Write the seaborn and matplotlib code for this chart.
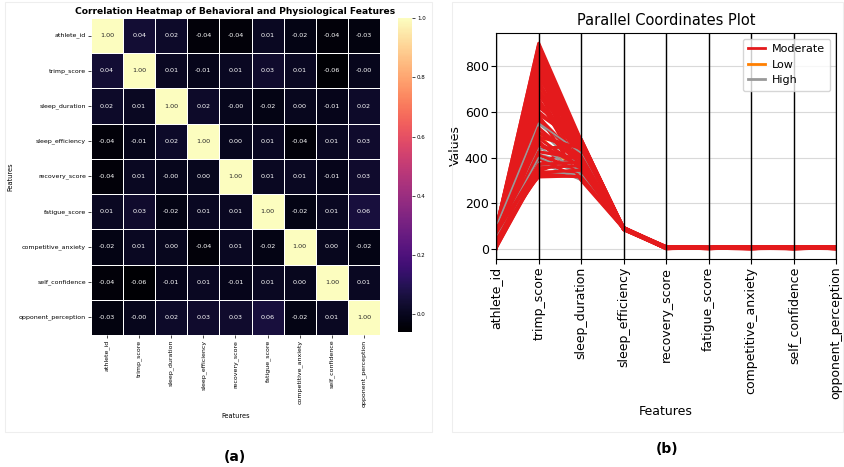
import pandas as pd
import matplotlib
matplotlib.use('Agg')
import matplotlib.pyplot as plt
import seaborn as sns
from matplotlib.patches import Rectangle

# ---- data ----
features = ['athlete_id', 'trimp_score', 'sleep_duration', 'sleep_efficiency',
            'recovery_score', 'fatigue_score', 'competitive_anxiety',
            'self_confidence', 'opponent_perception']

corr_values = [
    [1.00, 0.04, 0.02, -0.04, -0.04, 0.01, -0.02, -0.04, -0.03],
    [0.04, 1.00, 0.01, -0.01, 0.01, 0.03, 0.01, -0.06, -0.003],
    [0.02, 0.01, 1.00, 0.02, -0.003, -0.02, 0.002, -0.01, 0.02],
    [-0.04, -0.01, 0.02, 1.00, 0.002, 0.01, -0.04, 0.01, 0.03],
    [-0.04, 0.01, -0.003, 0.002, 1.00, 0.01, 0.01, -0.01, 0.03],
    [0.01, 0.03, -0.02, 0.01, 0.01, 1.00, -0.02, 0.01, 0.06],
    [-0.02, 0.01, 0.002, -0.04, 0.01, -0.02, 1.00, 0.002, -0.02],
    [-0.04, -0.06, -0.01, 0.01, -0.01, 0.01, 0.002, 1.00, 0.01],
    [-0.03, -0.003, 0.02, 0.03, 0.03, 0.06, -0.02, 0.01, 1.00],
]

stress_level = ['Moderate', 'Moderate', 'Low', 'Moderate', 'High', 'Moderate', 'Moderate', 'Moderate',
                'Moderate', 'High', 'Moderate', 'Moderate', 'Moderate', 'Moderate', 'High', 'Moderate',
                'Moderate', 'Low', 'Moderate', 'High', 'Moderate', 'Moderate', 'Moderate', 'Moderate',
                'High', 'Moderate', 'Moderate', 'Moderate', 'Moderate', 'High', 'Moderate', 'Low',
                'Moderate', 'Moderate', 'High', 'Moderate', 'Moderate', 'Moderate', 'Moderate', 'High',
                'Moderate', 'Low', 'Moderate', 'Moderate', 'High', 'Moderate', 'Moderate', 'High',
                'Moderate', 'Moderate', 'Moderate', 'Moderate', 'Moderate', 'Moderate', 'Moderate', 'Moderate',
                'Moderate', 'Moderate', 'Moderate', 'Moderate', 'Moderate', 'High', 'Moderate', 'Moderate',
                'Moderate', 'Moderate', 'Moderate', 'High', 'Moderate', 'Moderate', 'Moderate', 'Moderate']
athlete_id = [3, 97, 12, 55, 78, 21, 64, 8, 89, 33, 45, 71, 15, 92, 27, 60,
              5, 83, 38, 50, 67, 18, 99, 42, 74, 10, 86, 30, 58, 2, 94, 47,
              69, 24, 81, 36, 62, 14, 90, 52, 7, 76, 40, 65, 19, 88, 29, 57,
              1, 95, 16, 53, 80, 25, 68, 11, 85, 35, 48, 73, 22, 98, 31, 63,
              6, 79, 44, 56, 70, 13, 91, 39]
trimp_score = [880, 845, 700, 320, 455, 760, 705, 395, 900, 520, 640, 330, 815, 560, 790, 470,
               350, 430, 685, 380, 870, 505, 315, 735, 415, 590, 830, 365, 655, 545, 895, 500,
               440, 775, 340, 620, 860, 410, 720, 430, 340, 700, 585, 800, 360, 485, 670, 445,
               890, 855, 825, 805, 780, 750, 725, 695, 675, 650, 630, 600, 575, 550, 530, 510,
               490, 460, 425, 400, 370, 355, 335, 325]
sleep_duration = [470, 455, 440, 330, 420, 440, 380, 305, 475, 350, 415, 340, 460, 395, 430, 310,
                  480, 370, 350, 300, 445, 425, 320, 390, 365, 460, 400, 470, 335, 410, 430, 320,
                  450, 360, 325, 480, 385, 345, 465, 375, 410, 440, 300, 420, 395, 355, 475, 340,
                  460, 470, 440, 455, 430, 475, 415, 445, 465, 405, 435, 450, 385, 420, 370, 405,
                  440, 360, 395, 330, 380, 365, 345, 315]
sleep_efficiency = [91, 88, 86, 93, 85, 90, 87, 92, 89, 84, 94, 86, 91, 88, 85, 93,
                    87, 90, 92, 86, 89, 84, 91, 88, 93, 87, 90, 85, 92, 89, 86, 94,
                    88, 91, 87, 90, 84, 93, 86, 89, 92, 85, 88, 91, 90, 87, 93, 86,
                    90, 87, 92, 85, 89, 93, 86, 91, 88, 94, 85, 90, 87, 92, 89, 86,
                    91, 88, 93, 85, 90, 87, 92, 89]
recovery_score = [7, 3, 5, 9, 2, 6, 8, 4, 1, 10, 5, 7, 3, 6, 9, 2,
                  8, 4, 6, 1, 7, 5, 10, 3, 8, 2, 6, 9, 4, 7, 5, 3,
                  8, 1, 6, 10, 2, 7, 5, 9, 4, 6, 3, 8, 2, 7, 5, 9,
                  3, 8, 5, 1, 9, 6, 2, 7, 4, 10, 6, 3, 8, 1, 5, 9,
                  2, 7, 4, 6, 10, 3, 8, 5]
fatigue_score = [4, 8, 2, 6, 10, 3, 5, 7, 9, 1, 6, 4, 8, 2, 5, 7,
                 3, 9, 1, 6, 4, 10, 7, 5, 2, 8, 3, 6, 9, 1, 7, 4,
                 5, 8, 2, 6, 10, 3, 7, 4, 9, 1, 5, 6, 8, 3, 2, 7,
                 7, 2, 9, 5, 3, 8, 6, 1, 10, 4, 7, 2, 5, 9, 3, 6,
                 8, 1, 4, 10, 2, 7, 5, 3]
competitive_anxiety = [6, 2, 9, 4, 7, 1, 8, 5, 3, 10, 2, 6, 4, 7, 9, 3,
                       5, 1, 8, 6, 10, 4, 2, 7, 5, 9, 1, 3, 6, 8, 4, 7,
                       2, 5, 9, 3, 6, 8, 1, 4, 7, 10, 5, 2, 6, 9, 3, 8,
                       1, 5, 7, 3, 8, 2, 10, 6, 4, 9, 3, 8, 1, 5, 7, 2,
                       6, 10, 9, 4, 8, 3, 7, 1]
self_confidence = [5, 9, 3, 7, 1, 8, 4, 6, 10, 2, 7, 3, 5, 9, 4, 1,
                   6, 8, 2, 10, 3, 7, 5, 1, 9, 4, 6, 2, 8, 5, 10, 3,
                   7, 4, 6, 1, 9, 5, 3, 8, 2, 6, 10, 4, 7, 1, 9, 5,
                   8, 4, 1, 6, 10, 3, 7, 2, 5, 9, 4, 8, 6, 1, 10, 7,
                   3, 5, 2, 9, 6, 4, 1, 8]
opponent_perception = [3, 6, 8, 1, 5, 10, 2, 9, 4, 7, 1, 8, 6, 3, 10, 5,
                       9, 2, 7, 4, 6, 1, 8, 10, 3, 5, 7, 4, 2, 9, 6, 8,
                       1, 3, 7, 5, 4, 10, 9, 2, 6, 3, 8, 7, 1, 4, 5, 10,
                       9, 1, 4, 7, 2, 6, 3, 10, 5, 8, 2, 9, 7, 4, 1, 6,
                       10, 3, 5, 8, 9, 2, 6, 4]

legend_order = ['Moderate', 'Low', 'High']
draw_order = ['Low', 'High', 'Moderate']
palette = {'Moderate': '#e41a1c', 'Low': '#ff7f00', 'High': '#999999'}
line_sizes = {'Moderate': 2.2, 'Low': 1.0, 'High': 1.2}

# ---- figure ----
fig = plt.figure(figsize=(8.44, 4.67), dpi=100)

# faint panel frames
fig.patches.append(Rectangle((0.006, 0.075), 0.506, 0.92, transform=fig.transFigure,
                             fill=False, edgecolor='#eeeeee', lw=0.8))
fig.patches.append(Rectangle((0.535, 0.075), 0.464, 0.92, transform=fig.transFigure,
                             fill=False, edgecolor='#eeeeee', lw=0.8))

# (a) heatmap
ax1 = fig.add_axes([0.1078, 0.2827, 0.3424, 0.6788])
cax = fig.add_axes([0.4716, 0.289, 0.0166, 0.672])
corr = pd.DataFrame(corr_values, index=features, columns=features)
sns.heatmap(corr, ax=ax1, cbar_ax=cax, cmap='magma', annot=True, fmt='.2f',
            annot_kws={'size': 4.6}, linewidths=0.6, linecolor='white')
ax1.set_title('Correlation Heatmap of Behavioral and Physiological Features',
              fontsize=6.6, fontweight='bold', pad=3)
ax1.set_xticklabels(features, rotation=90)
ax1.set_yticklabels(features, rotation=0)
ax1.tick_params(labelsize=4.5, length=2, width=0.5, pad=1.5)
ax1.set_xlabel('Features', fontsize=4.8)
ax1.set_ylabel('Features', fontsize=4.8)
cax.set_yticks([0.0, 0.2, 0.4, 0.6, 0.8, 1.0])
cax.tick_params(labelsize=4, length=2, width=0.5, pad=1.5)

# (b) parallel coordinates
ax2 = fig.add_axes([0.588, 0.4454, 0.4025, 0.484])
wide = pd.DataFrame({
    'athlete_id': athlete_id, 'trimp_score': trimp_score, 'sleep_duration': sleep_duration,
    'sleep_efficiency': sleep_efficiency, 'recovery_score': recovery_score,
    'fatigue_score': fatigue_score, 'competitive_anxiety': competitive_anxiety,
    'self_confidence': self_confidence, 'opponent_perception': opponent_perception,
    'stress_level': stress_level,
})
wide['row'] = range(len(wide))
long = wide.melt(id_vars=['row', 'stress_level'], value_vars=features,
                 var_name='feature', value_name='value')
long['position'] = long['feature'].map({f: i for i, f in enumerate(features)})

sns.lineplot(data=long, x='position', y='value', hue='stress_level', hue_order=draw_order,
             size='stress_level', sizes=line_sizes, size_order=draw_order,
             units='row', estimator=None, palette=palette, ax=ax2)

# stack the lines in row order, like a row-by-row parallel coordinates plot
data_lines = [ln for ln in ax2.lines if len(ln.get_xdata()) == len(features)]
k = 0
for lvl in draw_order:
    for r in sorted(wide.loc[wide['stress_level'] == lvl, 'row']):
        data_lines[k].set_zorder(2 + r / 1000)
        k += 1

ax2.set_xlim(0, len(features) - 1)
ax2.set_xticks(range(len(features)))
ax2.set_xticklabels(features, rotation=90)
ax2.grid(True, color='#d9d9d9', lw=0.8)
for i in range(len(features)):
    ax2.axvline(i, color='black', lw=1, zorder=4)
ax2.tick_params(labelsize=9, pad=2)
ax2.set_title('Parallel Coordinates Plot', fontsize=10.5, pad=6)
ax2.set_xlabel('Features', fontsize=9)
ax2.set_ylabel('Values', fontsize=9, labelpad=2)

handles, labels = ax2.get_legend_handles_labels()
hmap = dict(zip(labels, handles))
leg = ax2.legend([hmap[k] for k in legend_order], legend_order, loc='upper right',
                 fontsize=8, handlelength=1.5, handletextpad=0.6, borderpad=0.5)
leg.set_zorder(6)
for line in leg.get_lines():
    line.set_linewidth(2)

fig.text(235 / 844, 1 - 457 / 467, '(a)', ha='center', va='center', fontsize=10, fontweight='bold')
fig.text(667 / 844, 1 - 449 / 467, '(b)', ha='center', va='center', fontsize=10, fontweight='bold')

fig.savefig('out.png', dpi=100)
